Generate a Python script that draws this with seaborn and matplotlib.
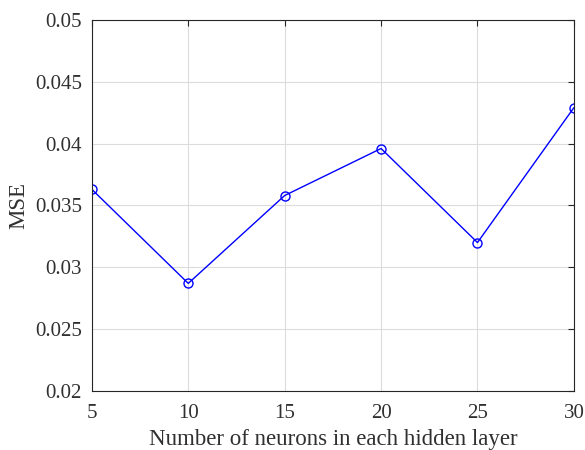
import matplotlib
matplotlib.use("Agg")
import matplotlib.pyplot as plt
import seaborn as sns
import pandas as pd

neurons = [5, 10, 15, 20, 25, 30]
mse = [0.0363, 0.0287, 0.0358, 0.0396, 0.0320, 0.0429]
xticks = [5, 10, 15, 20, 25, 30]
yticks = [0.02, 0.025, 0.03, 0.035, 0.04, 0.045, 0.05]
ytick_labels = ["0.02", "0.025", "0.03", "0.035", "0.04", "0.045", "0.05"]

sns.set_theme(style="white")
plt.rcParams['font.family'] = ['Liberation Serif', 'DejaVu Serif']
plt.rcParams['mathtext.fontset'] = 'stix'

df = pd.DataFrame({"neurons": neurons, "mse": mse})

fig = plt.figure(figsize=(5.85, 4.5), dpi=100)
ax = fig.add_axes([0.157, 0.131, 0.824, 0.825])
sns.lineplot(data=df, x="neurons", y="mse", ax=ax, color="#0000ff", linewidth=1.0,
             marker="o", markersize=6.5, markerfacecolor="none", markeredgecolor="#0000ff",
             markeredgewidth=1.0)

ax.set_xlim(5, 30)
ax.set_ylim(0.02, 0.05)
ax.set_xticks(xticks)
ax.set_xticklabels([str(t) for t in xticks])
ax.set_yticks(yticks)
ax.set_yticklabels(ytick_labels)
ax.grid(True, color="#dcdcdc", linewidth=0.8)
ax.set_axisbelow(True)
for s in ax.spines.values():
    s.set_color("#262626")
    s.set_linewidth(0.8)
ax.tick_params(direction="in", length=4, width=0.8, colors="#262626", labelsize=15,
               top=True, right=True, labelcolor="#303030")
ax.tick_params(axis="x", pad=9)
ax.tick_params(axis="y", pad=7)
ax.set_xlabel("Number of neurons in each hidden layer", fontsize=16.5, color="#303030", labelpad=5)
ax.set_ylabel("MSE", fontsize=16.5, color="#303030", labelpad=4)

fig.savefig("out.png", dpi=100)
